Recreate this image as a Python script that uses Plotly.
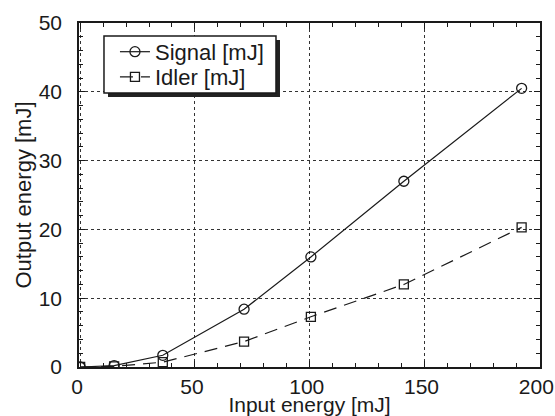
import plotly.graph_objects as go

input_energy = [0, 14.8, 36, 71.4, 100.5, 141, 192.3]
signal_mj = [0, 0.2, 1.7, 8.4, 16.0, 27.0, 40.5]
idler_mj = [0, 0.1, 0.7, 3.7, 7.3, 12.0, 20.3]

x_ticks = [0, 50, 100, 150, 200]
y_ticks = [0, 10, 20, 30, 40, 50]

FONT = "Liberation Sans"
INK = "#1a1a1a"

fig = go.Figure()
fig.add_trace(go.Scatter(
    x=input_energy, y=signal_mj, name="Signal [mJ]", mode="lines+markers",
    line=dict(color=INK, width=1.2),
    marker=dict(symbol="circle-open", size=10, color=INK, line=dict(width=1.3)),
    legend="legend",
))
fig.add_trace(go.Scatter(
    x=input_energy, y=idler_mj, name="Idler [mJ]", mode="lines+markers",
    line=dict(color=INK, width=1.2, dash="13px,8px"),
    marker=dict(symbol="square-open", size=9, color=INK, line=dict(width=1.3)),
    legend="legend2",
))

axis_common = dict(
    showline=True, linecolor=INK, linewidth=1.5, mirror="ticks",
    ticks="inside", ticklen=6, tickcolor=INK, tickwidth=1,
    showgrid=True, gridcolor="#333", griddash="dot", gridwidth=1,
    zeroline=False, automargin=False,
    tickfont=dict(family=FONT, size=21, color=INK),
)

fig.update_xaxes(
    range=[-0.5, 200.3], tickvals=x_ticks, ticktext=[str(v) for v in x_ticks],
    ticklabelstandoff=0, ticklabelshift=-3, ticklabeloverflow="allow",
    minor=dict(dtick=10, ticks="inside", ticklen=4, tickcolor=INK, showgrid=False),
    title=dict(text="Input energy [mJ]", font=dict(family=FONT, size=21, color=INK), standoff=4),
    **axis_common,
)
fig.update_yaxes(
    range=[0, 50], tickvals=y_ticks, ticktext=[str(v) for v in y_ticks],
    ticklabelstandoff=11,
    minor=dict(dtick=2, ticks="inside", ticklen=4, tickcolor=INK, showgrid=False),
    title=dict(text="Output energy [mJ]", font=dict(family=FONT, size=22, color=INK), standoff=1),
    **axis_common,
)

legend_common = dict(
    xanchor="left", yanchor="middle", x=0.078,
    bgcolor="rgba(0,0,0,0)", borderwidth=0,
    font=dict(family=FONT, size=22, color=INK),
    itemwidth=30,
)

fig.update_layout(
    width=555, height=416,
    margin=dict(l=79, r=15, t=23, b=49),
    paper_bgcolor="white", plot_bgcolor="white",
    legend=dict(y=0.916, **legend_common),
    legend2=dict(y=0.843, **legend_common),
    showlegend=True,
)

# legend frame with drop shadow
fig.add_shape(type="rect", xref="paper", yref="paper",
              x0=0.0629, x1=0.436, y0=0.7849, y1=0.9506,
              fillcolor="#222", line=dict(width=0), layer="above")
fig.add_shape(type="rect", xref="paper", yref="paper",
              x0=0.0542, x1=0.4273, y0=0.7965, y1=0.9622,
              fillcolor="white", line=dict(color=INK, width=1.5), layer="above")

fig.write_html("out.html", config={"displayModeBar": False})
with open("out.html", encoding="utf-8") as f:
    html = f.read()
html = html.replace("<head>", "<head><style>html,body{margin:0;padding:0;overflow:hidden}</style>", 1)
with open("out.html", "w", encoding="utf-8") as f:
    f.write(html)
